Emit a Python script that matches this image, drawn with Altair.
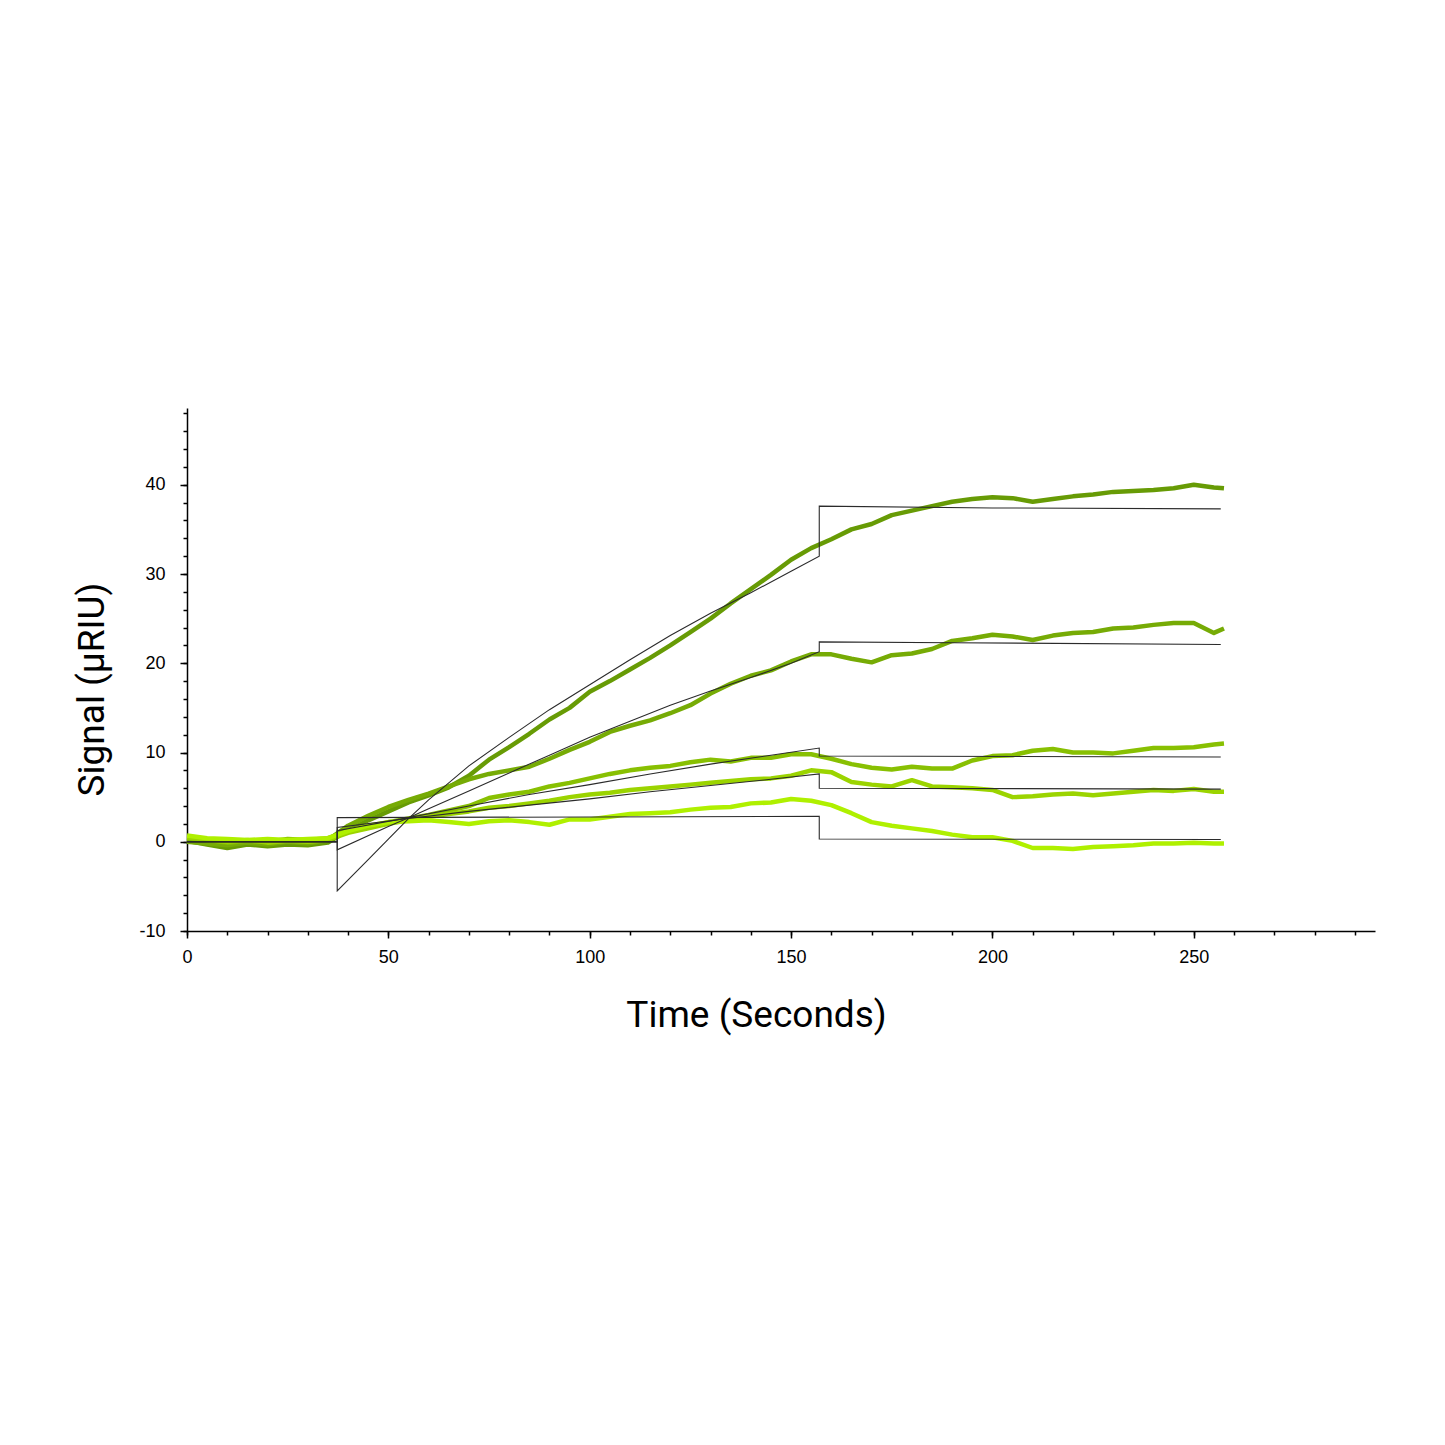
import altair as alt
import pandas as pd

# ---------------- data ----------------
TIME = [0, 5, 10, 15, 20, 25, 30, 35, 40, 45, 50, 55, 60, 65, 70, 75, 80, 85, 90, 95,
        100, 105, 110, 115, 120, 125, 130, 135, 140, 145, 150, 155, 160, 165, 170, 175,
        180, 185, 190, 195, 200, 205, 210, 215, 220, 225, 230, 235, 240, 245, 250, 255, 257.5]

TRACE_1 = [0.1, -0.3, -0.7, -0.3, -0.5, -0.3, -0.4, -0.1, 1.3, 2.4, 3.4, 4.4, 5.2, 6.1, 7.4,
           9.2, 10.6, 12.1, 13.7, 15.0, 16.8, 18.0, 19.3, 20.6, 22.0, 23.5, 25.0, 26.7, 28.3,
           29.9, 31.6, 32.9, 33.9, 35.0, 35.6, 36.6, 37.1, 37.6, 38.1, 38.4, 38.6, 38.5, 38.1,
           38.4, 38.7, 38.9, 39.2, 39.3, 39.4, 39.6, 40.0, 39.7, 39.6]
TRACE_2 = [0.0, -0.2, -0.4, -0.1, -0.3, 0.0, -0.2, 0.2, 1.8, 2.9, 3.9, 4.7, 5.4, 6.2, 7.0,
           7.6, 8.0, 8.4, 9.3, 10.3, 11.2, 12.3, 13.0, 13.6, 14.4, 15.3, 16.6, 17.7, 18.6,
           19.2, 20.2, 21.0, 21.0, 20.5, 20.1, 20.9, 21.1, 21.6, 22.5, 22.8, 23.2, 23.0, 22.6,
           23.1, 23.4, 23.5, 23.9, 24.0, 24.3, 24.5, 24.5, 23.4, 23.9]
TRACE_3 = [0.4, 0.2, -0.1, 0.1, 0.0, 0.3, 0.2, 0.4, 1.2, 1.7, 2.2, 2.6, 3.0, 3.5, 4.0,
           4.9, 5.3, 5.6, 6.2, 6.6, 7.1, 7.6, 8.0, 8.3, 8.5, 8.9, 9.2, 9.0, 9.4, 9.4, 9.8,
           9.8, 9.3, 8.7, 8.3, 8.1, 8.4, 8.2, 8.2, 9.1, 9.6, 9.7, 10.2, 10.4, 10.0, 10.0, 9.9,
           10.2, 10.5, 10.5, 10.6, 10.9, 11.0]
TRACE_4 = [0.5, 0.2, 0.0, 0.2, -0.1, 0.1, 0.0, 0.2, 1.0, 1.5, 2.0, 2.4, 2.8, 3.1, 3.4,
           3.8, 4.0, 4.3, 4.6, 5.0, 5.3, 5.5, 5.8, 6.0, 6.2, 6.4, 6.6, 6.8, 7.0, 7.1, 7.4,
           8.0, 7.8, 6.7, 6.4, 6.2, 6.9, 6.2, 6.1, 6.0, 5.8, 5.0, 5.1, 5.3, 5.4, 5.2, 5.4,
           5.6, 5.8, 5.7, 5.9, 5.6, 5.6]
TRACE_5 = [0.7, 0.4, 0.3, 0.2, 0.3, 0.2, 0.3, 0.4, 1.2, 1.8, 2.2, 2.3, 2.4, 2.2, 2.0,
           2.3, 2.4, 2.2, 1.9, 2.5, 2.5, 2.8, 3.1, 3.2, 3.3, 3.6, 3.8, 3.9, 4.3, 4.4, 4.8,
           4.6, 4.1, 3.2, 2.2, 1.8, 1.5, 1.2, 0.8, 0.5, 0.5, 0.1, -0.7, -0.7, -0.8, -0.6,
           -0.5, -0.4, -0.2, -0.2, -0.1, -0.2, -0.2]

TRACE_NAMES = ["Trace 1", "Trace 2", "Trace 3", "Trace 4", "Trace 5"]
TRACE_COLORS = ["#679b05", "#76ab05", "#88c002", "#9bd400", "#aff000"]

FIT_1_T = [0, 37.3, 37.3, 45, 50, 55, 60, 70, 80, 90, 100, 110, 120, 130, 140, 150, 157, 157, 200, 256.7]
FIT_1_V = [0, 0, -5.5, -2.0, 0.3, 2.6, 4.7, 8.5, 11.7, 14.8, 17.6, 20.4, 23.1, 25.6, 27.9, 30.3, 32.0, 37.6, 37.4, 37.3]
FIT_2_T = [0, 37.3, 37.3, 50, 54.6, 60, 70, 80, 90, 100, 110, 120, 130, 140, 150, 157, 157, 190, 256.7]
FIT_2_V = [0, 0, -0.9, 1.7, 2.6, 3.7, 5.7, 7.7, 9.7, 11.7, 13.5, 15.3, 16.9, 18.4, 20.0, 21.3, 22.4, 22.3, 22.1]
FIT_3_T = [0, 37.3, 37.3, 55, 70, 85, 100, 115, 130, 145, 157, 157, 256.7]
FIT_3_V = [0, 0, 1.25, 2.7, 4.0, 5.3, 6.4, 7.6, 8.7, 9.7, 10.5, 9.6, 9.5]
FIT_4_T = [0, 37.3, 37.3, 55, 70, 85, 100, 115, 130, 145, 157, 157, 256.7]
FIT_4_V = [0, 0, 1.6, 2.6, 3.4, 4.1, 4.8, 5.6, 6.3, 7.0, 7.6, 6.0, 5.9]
FIT_5_T = [0, 37.3, 37.3, 157, 157, 256.7]
FIT_5_V = [0, 0, 2.7, 2.85, 0.3, 0.25]

X_MAJOR = [0, 50, 100, 150, 200, 250]
X_MINOR = list(range(0, 300, 10))
Y_MAJOR = [-10, 0, 10, 20, 30, 40]
Y_MINOR = list(range(-10, 50, 2))

# ---------------- tables ----------------
rows = []
for name, vals in zip(TRACE_NAMES, [TRACE_1, TRACE_2, TRACE_3, TRACE_4, TRACE_5]):
    for i, (t, v) in enumerate(zip(TIME, vals)):
        rows.append({"series": name, "t": t, "v": v, "i": i})
traces = pd.DataFrame(rows)

frows = []
for name, ts, vs in [("Fit 1", FIT_1_T, FIT_1_V), ("Fit 2", FIT_2_T, FIT_2_V),
                     ("Fit 3", FIT_3_T, FIT_3_V), ("Fit 4", FIT_4_T, FIT_4_V),
                     ("Fit 5", FIT_5_T, FIT_5_V)]:
    for i, (t, v) in enumerate(zip(ts, vs)):
        frows.append({"fit": name, "t": t, "v": v, "i": i})
fits = pd.DataFrame(frows)

xscale = alt.Scale(domain=[0, 295], nice=False, zero=False)
yscale = alt.Scale(domain=[-10, 48.6], nice=False, zero=False)

LABEL_FONT = "Liberation Sans"
TITLE_FONT = "Roboto"

x_main = alt.Axis(values=X_MAJOR, orient="bottom", title="Time (Seconds)", grid=False,
                  tickSize=7, tickWidth=1.5, tickColor="black", domainColor="black",
                  domainWidth=1.5, labelFont=LABEL_FONT, labelFontSize=18, labelColor="black",
                  labelPadding=10, labelFlush=False, labelExpr="datum.value + ''",
                  titleFont=TITLE_FONT, titleFontSize=37,
                  titleFontWeight="normal", titleColor="black", titleX=569, titleY=84,
                  titleAlign="center", titleBaseline="middle")
y_main = alt.Axis(values=Y_MAJOR, orient="left", title="Signal (µRIU)", grid=False,
                  tickSize=7, tickWidth=1.5, tickColor="black", domainColor="black",
                  domainWidth=1.5, labelFont=LABEL_FONT, labelFontSize=18, labelColor="black",
                  labelPadding=15, labelFlush=False, labelExpr="datum.value + ''",
                  titleFont=TITLE_FONT, titleFontSize=37,
                  titleFontWeight="normal", titleColor="black", titleX=-95, titleY=281,
                  titleAngle=270, titleAlign="center", titleBaseline="middle")
x_minor = alt.Axis(values=X_MINOR, orient="bottom", title=None, labels=False, grid=False,
                   domain=False, tickSize=4, tickWidth=1.5, tickColor="black")
y_minor = alt.Axis(values=Y_MINOR, orient="left", title=None, labels=False, grid=False,
                   domain=False, tickSize=4, tickWidth=1.5, tickColor="black")

trace_layer = alt.Chart(traces).mark_line(strokeWidth=4.5, strokeJoin="round").encode(
    x=alt.X("t:Q", scale=xscale, axis=x_main),
    y=alt.Y("v:Q", scale=yscale, axis=y_main),
    color=alt.Color("series:N", scale=alt.Scale(domain=TRACE_NAMES, range=TRACE_COLORS), legend=None),
    order=alt.Order("i:Q"),
)

fit_layer = alt.Chart(fits).mark_line(strokeWidth=1.1, color="#2b2b2b").encode(
    x=alt.X("t:Q", scale=xscale, axis=x_minor),
    y=alt.Y("v:Q", scale=yscale, axis=y_minor),
    detail="fit:N",
    order=alt.Order("i:Q"),
)

chart = alt.layer(trace_layer, fit_layer).resolve_axis(
    x="independent", y="independent"
).properties(
    width=1188, height=523,
    padding={"left": 187, "top": 408, "right": 70, "bottom": 514},
    autosize=alt.AutoSizeParams(type="none"),
    background="white",
).configure_view(stroke=None)

chart.save("out.html", embed_options={"renderer": "svg", "actions": False})
